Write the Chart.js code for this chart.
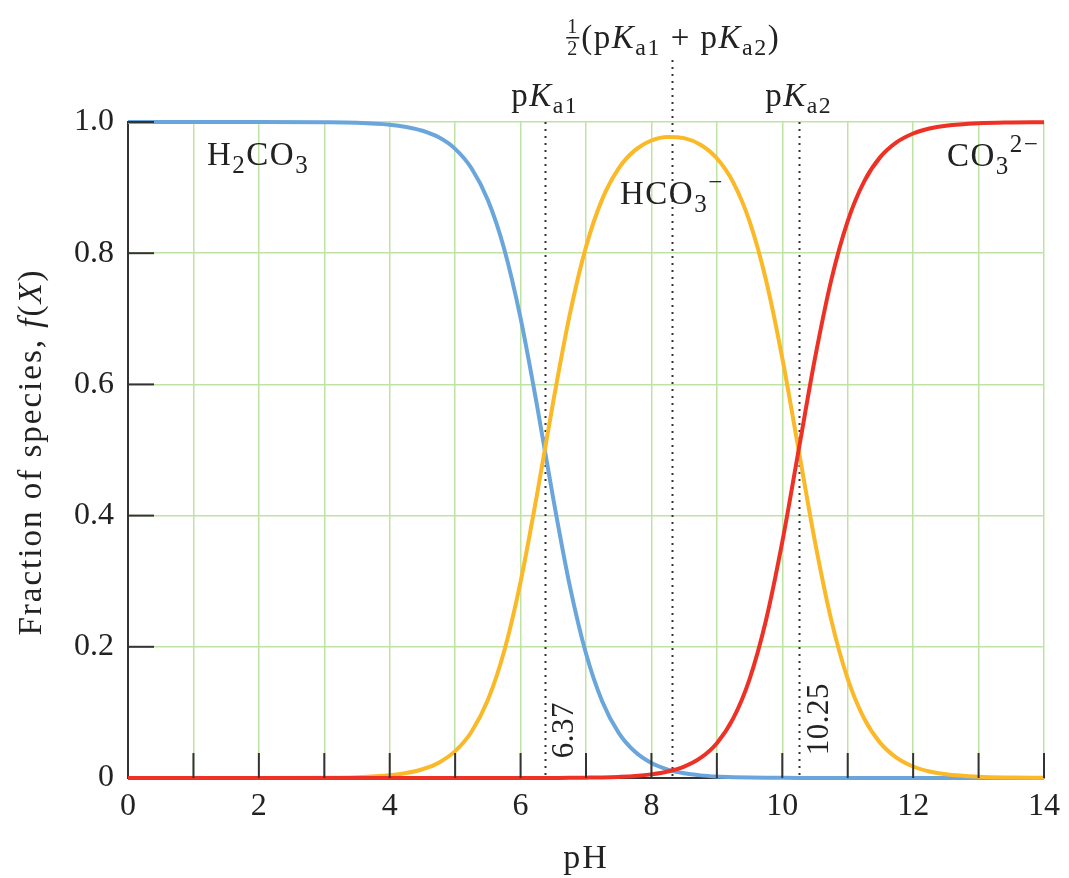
<!DOCTYPE html>
<html>
<head>
<meta charset="utf-8">
<script src="https://cdn.jsdelivr.net/npm/chart.js@4"></script>
<style>
  body { margin: 0; background: #fff; }
  canvas { display: block; }
</style>
</head>
<body>
<canvas id="myChart" width="1069" height="878"></canvas>
<script>
// pH values and fraction of each carbonate species
const pH = [0, 1, 2, 3, 3.5, 4, 4.25, 4.5, 4.75, 5, 5.25, 5.5, 5.75, 6, 6.25, 6.5, 6.75, 7, 7.25, 7.5, 7.75, 8, 8.25, 8.5, 8.75, 9, 9.25, 9.5, 9.75, 10, 10.25, 10.5, 10.75, 11, 11.25, 11.5, 11.75, 12, 12.25, 12.5, 13, 13.5, 14];
const h2co3 = [1, 1, 1, 0.9996, 0.9987, 0.9958, 0.9925, 0.9867, 0.9766, 0.9591, 0.9295, 0.8811, 0.8065, 0.7010, 0.5686, 0.4257, 0.2941, 0.1898, 0.1164, 0.0689, 0.0399, 0.0228, 0.0129, 0.0072, 0.0040, 0.0022, 0.0012, 0.0006, 0.0003, 0.0002, 0.0001, 0, 0, 0, 0, 0, 0, 0, 0, 0, 0, 0, 0];
const hco3 = [0, 0, 0, 0.0004, 0.0013, 0.0042, 0.0075, 0.0133, 0.0234, 0.0409, 0.0705, 0.1189, 0.1935, 0.2990, 0.4314, 0.5742, 0.7056, 0.8097, 0.8828, 0.9294, 0.9571, 0.9718, 0.9773, 0.9754, 0.9654, 0.9447, 0.9080, 0.8485, 0.7595, 0.6400, 0.4999, 0.3600, 0.2403, 0.1510, 0.0909, 0.0532, 0.0307, 0.0175, 0.0099, 0.0056, 0.0018, 0.0006, 0.0002];
const co3 = [0, 0, 0, 0, 0, 0, 0, 0, 0, 0, 0, 0, 0, 0, 0, 0.0001, 0.0002, 0.0005, 0.0009, 0.0017, 0.0030, 0.0055, 0.0098, 0.0173, 0.0305, 0.0531, 0.0908, 0.1509, 0.2402, 0.3599, 0.5000, 0.6400, 0.7597, 0.8490, 0.9091, 0.9468, 0.9693, 0.9825, 0.9901, 0.9944, 0.9982, 0.9994, 0.9998];

const pKa1 = 6.37;
const pKa2 = 10.25;
const pKaMid = 8.31;

const serif = '"Liberation Serif", "DejaVu Serif", serif';
const ink = '#222';
const axisColor = '#333';

function pts(ys) {
    return pH.map((x, i) => ({ x: x, y: ys[i] }));
}

// text pieces (normal / italic / sub / sup) laid out in a row
function setFont(ctx, r) {
    ctx.font = (r.italic ? 'italic ' : '') + r.size + 'px ' + serif;
    ctx.letterSpacing = (r.ls === undefined ? 1.5 : r.ls) + 'px';
}
function runsWidth(ctx, runs) {
    let w = 0;
    runs.forEach(r => {
        setFont(ctx, r);
        w += ctx.measureText(r.t).width;
    });
    return w;
}
function drawRuns(ctx, runs, x, y, align) {
    let w = runsWidth(ctx, runs);
    let cx = align === 'center' ? x - w / 2 : x;
    ctx.textAlign = 'left';
    ctx.textBaseline = 'alphabetic';
    runs.forEach(r => {
        setFont(ctx, r);
        ctx.fillText(r.t, cx, y + (r.dy || 0));
        cx += ctx.measureText(r.t).width;
    });
    ctx.letterSpacing = '0px';
}

function pKaRuns(n, size) {
    return [
        { t: 'p', size: size },
        { t: 'K', size: size, italic: true },
        { t: 'a' + n, size: size * 0.72, dy: 7 }
    ];
}

const decorations = {
    id: 'decorations',
    beforeDatasetsDraw(chart) {
        const ctx = chart.ctx;
        const xs = chart.scales.x;
        const area = chart.chartArea;
        ctx.save();
        ctx.strokeStyle = axisColor;
        ctx.lineWidth = 2;
        ctx.setLineDash([2, 5]);
        [[pKa1, area.top], [pKaMid, 60], [pKa2, area.top]].forEach(m => {
            const px = Math.round(xs.getPixelForValue(m[0])) + 0.5;
            ctx.beginPath();
            ctx.moveTo(px, m[1]);
            ctx.lineTo(px, area.bottom);
            ctx.stroke();
        });
        ctx.restore();
    },
    afterDatasetsDraw(chart) {
        const ctx = chart.ctx;
        const xs = chart.scales.x, ys = chart.scales.y;
        const area = chart.chartArea;
        ctx.save();
        // inward tick marks
        ctx.strokeStyle = axisColor;
        ctx.lineWidth = 2;
        for (let v = 1; v <= 14; v++) {
            const px = xs.getPixelForValue(v);
            ctx.beginPath();
            ctx.moveTo(px, area.bottom);
            ctx.lineTo(px, area.bottom - 25);
            ctx.stroke();
        }
        for (let v = 0.2; v <= 1.0001; v += 0.2) {
            const py = ys.getPixelForValue(v);
            ctx.beginPath();
            ctx.moveTo(area.left, py);
            ctx.lineTo(area.left + 26, py);
            ctx.stroke();
        }

        ctx.fillStyle = ink;
        // pKa labels
        drawRuns(ctx, pKaRuns(1, 33), xs.getPixelForValue(pKa1), 106, 'center');
        drawRuns(ctx, pKaRuns(2, 33), xs.getPixelForValue(pKa2), 106, 'center');

        // 1/2 (pKa1 + pKa2)
        const midRuns = [
            { t: '(p', size: 33 },
            { t: 'K', size: 33, italic: true },
            { t: 'a1', size: 24, dy: 7 },
            { t: ' + p', size: 33 },
            { t: 'K', size: 33, italic: true },
            { t: 'a2', size: 24, dy: 7 },
            { t: ')', size: 33 }
        ];
        const fracW = 16;
        const midW = runsWidth(ctx, midRuns) + fracW;
        const midLeft = xs.getPixelForValue(pKaMid) - midW / 2;
        ctx.letterSpacing = '0px';
        ctx.font = '20px ' + serif;
        ctx.textAlign = 'center';
        ctx.textBaseline = 'alphabetic';
        ctx.fillText('1', midLeft + fracW / 2, 33);
        ctx.fillText('2', midLeft + fracW / 2, 55);
        ctx.fillRect(midLeft + 2, 37, fracW - 3, 1.5);
        drawRuns(ctx, midRuns, midLeft + fracW + 1, 48, 'left');

        // species labels
        drawRuns(ctx, [
            { t: 'H', size: 33 }, { t: '2', size: 25, dy: 8 },
            { t: 'CO', size: 33 }, { t: '3', size: 25, dy: 8 }
        ], 207, 165, 'left');
        drawRuns(ctx, [
            { t: 'HCO', size: 33 }, { t: '3', size: 25, dy: 8 },
            { t: '\u2212', size: 25, dy: -14 }
        ], 620, 204, 'left');
        drawRuns(ctx, [
            { t: 'CO', size: 33 }, { t: '3', size: 25, dy: 8 },
            { t: '2\u2212', size: 25, dy: -14 }
        ], 947, 166, 'left');

        // rotated pKa values
        ctx.letterSpacing = '0.5px';
        ctx.font = '31px ' + serif;
        ctx.textAlign = 'center';
        ctx.textBaseline = 'middle';
        [[pKa1, '6.37', 20, 730], [pKa2, '10.25', 21, 719]].forEach(m => {
            ctx.save();
            ctx.translate(xs.getPixelForValue(m[0]) + m[2], m[3]);
            ctx.rotate(-Math.PI / 2);
            ctx.fillText(m[1], 0, 0);
            ctx.restore();
        });

        // axis titles
        drawRuns(ctx, [{ t: 'pH', size: 34, ls: 2 }], (area.left + area.right) / 2, 868, 'center');

        ctx.save();
        ctx.translate(41, 452);
        ctx.rotate(-Math.PI / 2);
        drawRuns(ctx, [
            { t: 'Fraction of species, ', size: 33, ls: 2 },
            { t: 'f', size: 33, italic: true, ls: 2 },
            { t: '(', size: 33, ls: 2 },
            { t: 'X', size: 33, italic: true, ls: 2 },
            { t: ')', size: 33, ls: 2 }
        ], 0, 0, 'center');
        ctx.restore();
        ctx.restore();
    }
};

const lineStyle = {
    showLine: true,
    pointRadius: 0,
    borderWidth: 4,
    cubicInterpolationMode: 'monotone',
    clip: false,
    fill: false
};

const ctx = document.getElementById('myChart').getContext('2d');
const myChart = new Chart(ctx, {
    type: 'scatter',
    data: {
        datasets: [
            Object.assign({ label: 'CO3 2-', data: pts(co3), borderColor: '#ee3124', order: 1 }, lineStyle),
            Object.assign({ label: 'HCO3-', data: pts(hco3), borderColor: '#fbb827', order: 2 }, lineStyle),
            Object.assign({ label: 'H2CO3', data: pts(h2co3), borderColor: '#6aa6dc', order: 3 }, lineStyle)
        ]
    },
    options: {
        responsive: false,
        animation: false,
        devicePixelRatio: 1,
        layout: { padding: { top: 122, right: 21, left: 0, bottom: 0 } },
        plugins: { legend: { display: false }, tooltip: { enabled: false } },
        scales: {
            x: {
                type: 'linear',
                min: 0,
                max: 14,
                afterFit: s => { s.height = 100; },
                ticks: {
                    stepSize: 1,
                    padding: 9,
                    color: ink,
                    font: { family: serif, size: 32 },
                    maxRotation: 0,
                    autoSkip: false,
                    callback: v => (v % 2 === 0 ? String(v) : '')
                },
                grid: { color: '#bfe3a3', lineWidth: 1.5, drawTicks: false },
                border: { display: true, color: axisColor, width: 2 }
            },
            y: {
                min: 0,
                max: 1,
                afterFit: s => { s.width = 128; },
                ticks: {
                    stepSize: 0.2,
                    padding: 14,
                    color: ink,
                    font: { family: serif, size: 32 },
                    callback: v => (v === 0 ? '0' : v.toFixed(1))
                },
                grid: { color: '#bfe3a3', lineWidth: 1.5, drawTicks: false },
                border: { display: true, color: axisColor, width: 2 }
            }
        }
    },
    plugins: [decorations]
});
</script>
</body>
</html>
